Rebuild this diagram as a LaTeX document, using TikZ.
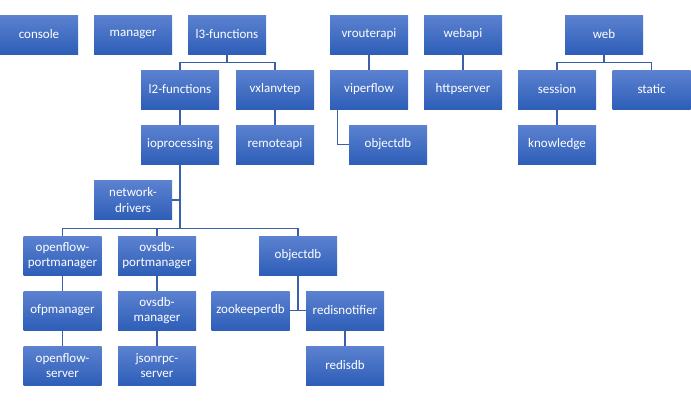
\documentclass[tikz,border=0pt]{standalone}
\usepackage{fontspec}
\setmainfont{Carlito}
\definecolor{boxtop}{RGB}{92,130,208}
\definecolor{boxbot}{RGB}{46,94,184}
\definecolor{linkcol}{RGB}{58,96,170}

\begin{document}
\begin{tikzpicture}[x=1pt,y=-1pt,
   mod/.style={minimum width=78pt,minimum height=39pt,inner sep=0pt,align=center,
      top color=boxtop,bottom color=boxbot,text=white,font=\fontsize{13}{15.5}\selectfont},
   link/.style={draw=linkcol,line width=1.2pt}]
   \useasboundingbox (0,0) rectangle (691,400);

   % top row
   \node[mod] (console) at (39,34.5) {console};
   \node[mod] (manager) at (133,34.5) {manager};
   \node[mod] (l3) at (227,34.5) {l3-functions};
   \node[mod] (vrouter) at (369,34.5) {vrouterapi};
   \node[mod] (webapi) at (463,34.5) {webapi};
   \node[mod] (web) at (604,34.5) {web};

   % second row
   \node[mod] (l2) at (180,89.5) {l2-functions};
   \node[mod] (vxlan) at (275,89.5) {vxlanvtep};
   \node[mod] (viper) at (369,89.5) {viperflow};
   \node[mod] (http) at (463,89.5) {httpserver};
   \node[mod] (session) at (557,89.5) {session};
   \node[mod] (static) at (651.5,89.5) {static};

   % third row
   \node[mod] (io) at (180,144.5) {ioprocessing};
   \node[mod] (remote) at (275,144.5) {remoteapi};
   \node[mod] (objdbA) at (388,144.5) {objectdb};
   \node[mod] (know) at (557,144.5) {knowledge};

   \node[mod] (drv) at (133,200) {network-\\drivers};

   % lower part
   \node[mod] (ofport) at (62.5,255.5) {openflow-\\portmanager};
   \node[mod] (ovsport) at (157,255.5) {ovsdb-\\portmanager};
   \node[mod] (objdbB) at (298,255.5) {objectdb};

   \node[mod] (ofpm) at (62.5,310.5) {ofpmanager};
   \node[mod] (ovsm) at (157,310.5) {ovsdb-\\manager};
   \node[mod] (zk) at (250.5,310.5) {zookeeperdb};
   \node[mod] (redisn) at (345,310.5) {redisnotifier};

   \node[mod] (ofserv) at (62.5,365.5) {openflow-\\server};
   \node[mod] (jsonrpc) at (157,365.5) {jsonrpc-\\server};
   \node[mod] (redisdb) at (345,365.5) {redisdb};

   % connectors
   \draw[link] (l3.south) -- ++(0,8) -| (l2.north);
   \draw[link] (l3.south) -- ++(0,8) -| (vxlan.north);
   \draw[link] (l2) -- (io);
   \draw[link] (vxlan) -- (remote);
   \draw[link] (vrouter) -- (viper);
   \draw[link] (viper.south west) ++(8,0) |- (objdbA.west);
   \draw[link] (webapi) -- (http);
   \draw[link] (web.south) -- ++(0,8) -| (session.north);
   \draw[link] (web.south) -- ++(0,8) -| (static.north);
   \draw[link] (session) -- (know);

   \draw[link] (io.south) -- ++(0,64) coordinate (bus);
   \draw[link] (drv.east) -| (io.south);
   \draw[link] (ofport.north) |- (bus) -| (objdbB.north);
   \draw[link] (ovsport.north) |- (bus);
   \draw[link] (ofport) -- (ofpm);
   \draw[link] (ofpm) -- (ofserv);
   \draw[link] (ovsport) -- (ovsm);
   \draw[link] (ovsm) -- (jsonrpc);
   \draw[link] (objdbB.south) -- (objdbB.south |- zk.east);
   \draw[link] (zk.east) -- (redisn.west);
   \draw[link] (redisn) -- (redisdb);
\end{tikzpicture}
\end{document}
